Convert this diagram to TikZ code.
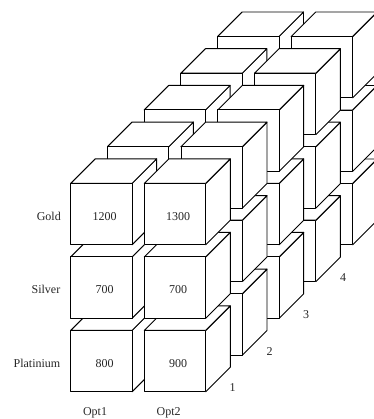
\documentclass[tikz,border=0pt]{standalone}
\usepackage{fontspec}
\setmainfont{Liberation Serif}
\tikzset{
  x=1bp,y=-1bp,
  cubeface/.style={draw=black,fill=white,line width=0.95bp,line join=round},
  lab/.style={inner sep=0pt,anchor=base,font=\fontsize{12bp}{14bp}\selectfont,text=black!85},
  rlab/.style={lab,anchor=base east},
}
\begin{document}
\begin{tikzpicture}
\useasboundingbox (0,0) rectangle (374,419);
\def\cubeW{61.4}
\def\cubeD{24.5}
\foreach \lay in {4,3,2,1,0}{
  \foreach \row in {2,1,0}{
    \foreach \col in {0,1}{
      \pgfmathsetmacro{\X}{70.8+73.6*\col+36.7*\lay}
      \pgfmathsetmacro{\Y}{183.3+73.5*\row-36.7*\lay}
      \coordinate (a) at (\X,\Y);
      \draw[cubeface] (a) -- ++(\cubeW,0) -- ++(\cubeD,-\cubeD) -- ++(0,\cubeW) -- ++(-\cubeD,\cubeD) -- cycle;
      \draw[cubeface] (a) -- ++(\cubeD,-\cubeD) -- ++(\cubeW,0) -- ++(-\cubeD,\cubeD) -- cycle;
      \draw[cubeface] (a) rectangle ++(\cubeW,\cubeW);
    }
  }
}
\node[lab] (v00) at (104.7,220) {1200};
\node[lab] (v01) at (178,220) {1300};
\node[lab] (v10) at (104.7,293.7) {700};
\node[lab] (v11) at (178,293.7) {700};
\node[lab] (v20) at (104.7,367) {800};
\node[lab] (v21) at (178,367) {900};
\node[rlab] (gold) at (61,220) {Gold};
\node[rlab] (silver) at (60.5,293.7) {Silver};
\node[rlab] (plat) at (60.5,367) {Platinium};
\node[lab] (opt1) at (95,415.5) {Opt1};
\node[lab] (opt2) at (168.7,415.5) {Opt2};
\node[lab] (n1) at (232.7,391.7) {1};
\node[lab] (n2) at (269.7,355) {2};
\node[lab] (n3) at (306,318) {3};
\node[lab] (n4) at (343,281.5) {4};
\end{tikzpicture}
\end{document}
